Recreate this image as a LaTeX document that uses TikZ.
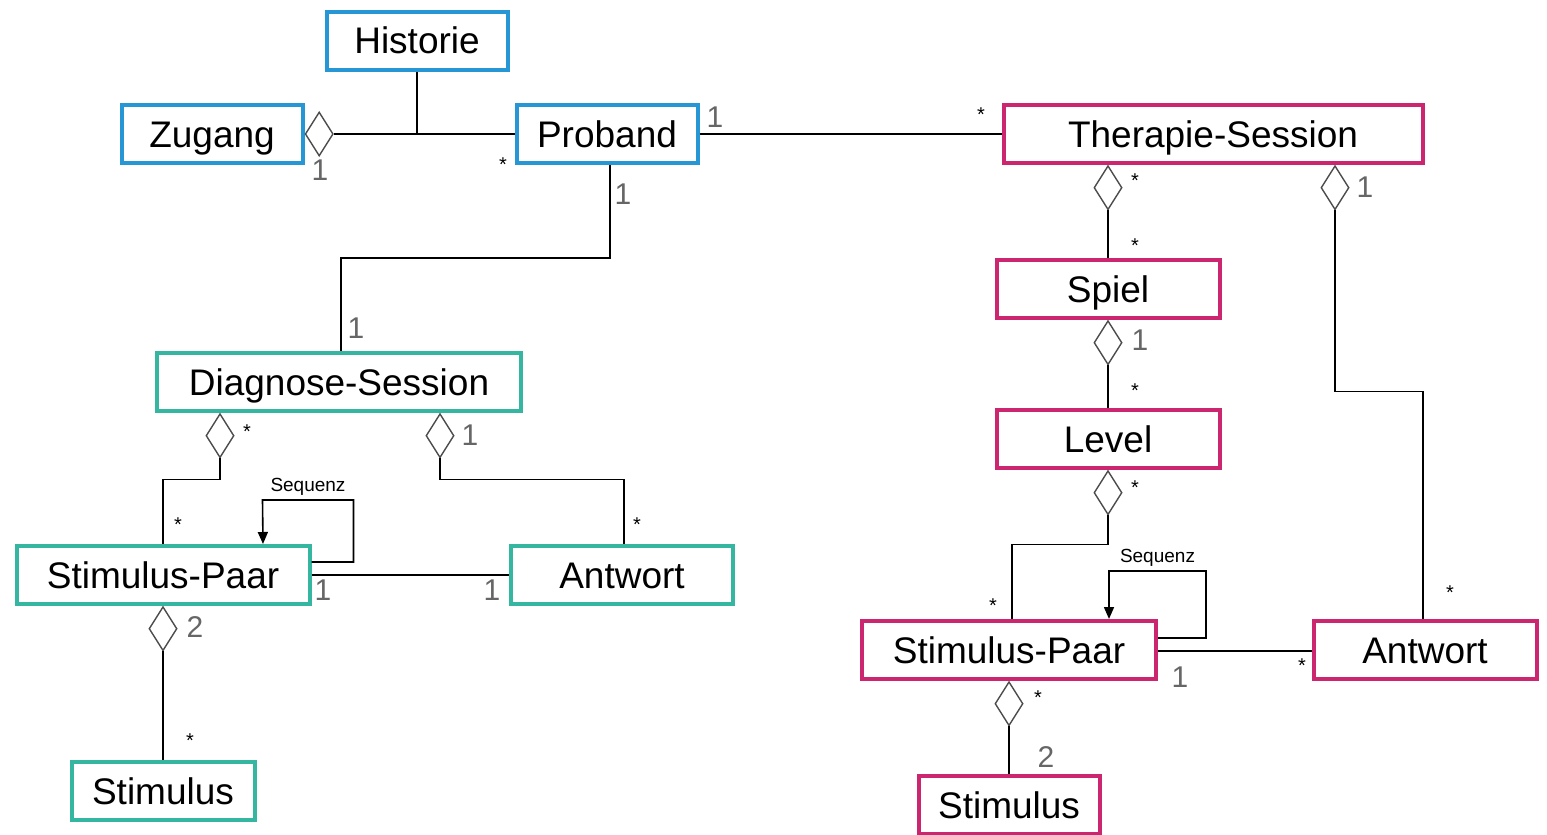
\documentclass[tikz,border=0pt]{standalone}
\usepackage{fontspec}
\setmainfont{Liberation Sans}
\usepackage{xcolor}
\usepackage{tikz}
\usetikzlibrary{arrows.meta,positioning,calc,shapes.geometric}
\definecolor{probandblue}{RGB}{38,150,212}
\definecolor{diagnoseteal}{RGB}{52,182,160}
\definecolor{therapiepink}{RGB}{204,38,112}

\begin{document}
\begin{tikzpicture}[x=0.5pt, y=-0.5pt,
    klasse/.style={draw, line width=2pt, fill=white, minimum height=29pt,
        inner sep=0pt, text height=15pt, text depth=2pt,
        font=\fontsize{18.5}{20}\selectfont},
    raute/.style={diamond, draw=black!70, line width=0.7pt, fill=white,
        minimum width=14pt, minimum height=22pt, inner sep=0pt},
    verb/.style={line width=0.8pt, black},
    eins/.style={font=\fontsize{15}{16}\selectfont, text=black!60, inner sep=0pt},
    stern/.style={font=\fontsize{10}{10}\selectfont, inner sep=0pt},
    seqlabel/.style={font=\fontsize{9.5}{10}\selectfont, inner sep=2pt}]
    \useasboundingbox[fill=white] (0,0) rectangle (1547,835);
    % Proband part
    \node[klasse, draw=probandblue, minimum width=90.5pt] (historie) at (417,41) {Historie};
    \node[klasse, draw=probandblue, minimum width=90.5pt] (zugang) at (212,134) {Zugang};
    \node[klasse, draw=probandblue, minimum width=90.5pt] (proband) at (607,134) {Proband};
    \node[raute, anchor=west] (rzugang) at (zugang.east) {};
    \draw[verb] (rzugang.east) -- (proband.west);
    \coordinate (knick) at (historie.south |- proband.west);
    \draw[verb] (historie.south) -- (knick);
    \node[eins] (m1) at (320,170) {1};
    \node[stern] (m2) at (503,165) {*};
    % Diagnose part
    \node[klasse, draw=diagnoseteal, minimum width=182pt] (diagnose) at (339,382) {Diagnose-Session};
    \node[klasse, draw=diagnoseteal, minimum width=146.5pt] (paarL) at (163,575) {Stimulus-Paar};
    \node[klasse, draw=diagnoseteal, minimum width=111pt] (antwortL) at (622,575) {Antwort};
    \node[klasse, draw=diagnoseteal, minimum width=91.5pt] (stimL) at (163,791) {Stimulus};
    \draw[verb] ([xshift=1.5pt]proband.south) -- ++(0,93) -| ([xshift=1pt]diagnose.north);
    \node[eins] (m3) at (623,194) {1};
    \node[eins] (m4) at (356,328) {1};
    \node[raute, anchor=north] (rdiag1) at (diagnose.south -| 220,0) {};
    \node[raute, anchor=north] (rdiag2) at (diagnose.south -| 440,0) {};
    \draw[verb] (rdiag1.south) -- ++(0,21) -| (paarL.north);
    \draw[verb] (rdiag2.south) -- ++(0,21) -| ([xshift=1pt]antwortL.north);
    \node[stern] (m5) at (247,432) {*};
    \node[stern] (m6) at (178,525) {*};
    \node[eins] (m7) at (470,435) {1};
    \node[stern] (m8) at (637,525) {*};
    \draw[verb, -{Triangle[width=5pt,length=6pt]}] ([yshift=6.5pt]paarL.east) -- ++(42,0)
        -- ++(0,-62) -- ++(-91,0) node[seqlabel, midway, above] (seq1) {Sequenz} -- ([xshift=50pt]paarL.north);
    \draw[verb] (paarL.east) -- (antwortL.west);
    \node[eins] (m9) at (323,590) {1};
    \node[eins] (m10) at (492,590) {1};
    \node[raute, anchor=north] (rpaarL) at (paarL.south) {};
    \draw[verb] (rpaarL.south) -- (stimL.north);
    \node[eins] (m11) at (195,627) {2};
    \node[stern] (m12) at (190,741) {*};
    % Therapie part
    \node[klasse, draw=therapiepink, minimum width=209.5pt] (therapie) at (1213,134) {Therapie-Session};
    \node[klasse, draw=therapiepink, minimum width=111.5pt] (spiel) at (1108,289) {Spiel};
    \node[klasse, draw=therapiepink, minimum width=111.5pt] (level) at (1108,439) {Level};
    \node[klasse, draw=therapiepink, minimum width=147pt] (paarR) at (1009,650) {Stimulus-Paar};
    \node[klasse, draw=therapiepink, minimum width=111.5pt] (antwortR) at (1425,650) {Antwort};
    \node[klasse, draw=therapiepink, minimum width=90.5pt] (stimR) at (1009,805) {Stimulus};
    \draw[verb] (proband.east) -- (therapie.west);
    \node[eins] (m13) at (715,117) {1};
    \node[stern] (m14) at (981,115) {*};
    \node[raute, anchor=north] (rther1) at (therapie.south -| spiel.north) {};
    \node[raute, anchor=north] (rther2) at (therapie.south -| 1335,0) {};
    \draw[verb] (rther1.south) -- (spiel.north);
    \draw[verb] (rther2.south) -- ++(0,181) -| ([xshift=-1pt]antwortR.north);
    \node[stern] (m15) at (1135,181) {*};
    \node[stern] (m16) at (1135,246) {*};
    \node[eins] (m17) at (1365,187) {1};
    \node[stern] (m18) at (1450,593) {*};
    \node[raute, anchor=north] (rspiel) at (spiel.south) {};
    \draw[verb] (rspiel.south) -- (level.north);
    \node[eins] (m19) at (1140,340) {1};
    \node[stern] (m20) at (1135,391) {*};
    \node[raute, anchor=north] (rlevel) at (level.south) {};
    \draw[verb] (rlevel.south) -- ++(0,29) -| ([xshift=1.5pt]paarR.north);
    \node[stern] (m21) at (1135,488) {*};
    \node[stern] (m22) at (993,606) {*};
    \draw[verb, -{Triangle[width=5pt,length=6pt]}] ([yshift=6pt]paarR.east) -- ++(48,0)
        -- ++(0,-67) -- ++(-97,0) node[seqlabel, midway, above] (seq2) {Sequenz} -- ([xshift=50pt]paarR.north);
    \draw[verb] ([yshift=-0.5pt]paarR.east) -- ([yshift=-0.5pt]antwortR.west);
    \node[eins] (m23) at (1180,677) {1};
    \node[stern] (m24) at (1302,666) {*};
    \node[raute, anchor=north] (rpaarR) at (paarR.south) {};
    \draw[verb] (rpaarR.south) -- (stimR.north);
    \node[stern] (m25) at (1038,698) {*};
    \node[eins] (m26) at (1046,757) {2};
\end{tikzpicture}
\end{document}
